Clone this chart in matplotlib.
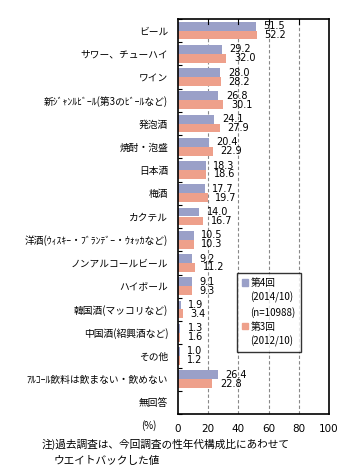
import matplotlib.pyplot as plt
from matplotlib.patches import Patch
import numpy as np

plt.rcParams['font.family'] = ['Noto Sans CJK JP', 'DejaVu Sans']

categories = ['ビール', 'サワー、チューハイ', 'ワイン', '新ｼﾞｬﾝﾙﾋﾞｰﾙ(第3のﾋﾞｰﾙなど)', '発泡酒',
              '焼酎・泡盛', '日本酒', '梅酒', 'カクテル', '洋酒(ｳｨｽｷｰ・ﾌﾞﾗﾝﾃﾞｰ・ｳｫｯｶなど)',
              'ノンアルコールビール', 'ハイボール', '韓国酒(マッコリなど)', '中国酒(紹興酒など)',
              'その他', 'ｱﾙｺｰﾙ飲料は飲まない・飲めない', '無回答']
vals_4 = [51.5, 29.2, 28.0, 26.8, 24.1, 20.4, 18.3, 17.7, 14.0, 10.5, 9.2, 9.1, 1.9, 1.3, 1.0, 26.4, None]
vals_3 = [52.2, 32.0, 28.2, 30.1, 27.9, 22.9, 18.6, 19.7, 16.7, 10.3, 11.2, 9.3, 3.4, 1.6, 1.2, 22.8, None]
xticks = [0, 20, 40, 60, 80, 100]

c4 = '#9aa0c8'
c3 = '#eea08b'

fig = plt.figure(figsize=(3.58, 4.76), dpi=100)
ax = fig.add_axes([178 / 358, 1 - 414 / 476, 151 / 358, 395 / 476])

n = len(categories)
y = np.arange(n)
h = 0.38
for i in range(n):
    if vals_4[i] is None:
        continue
    ax.barh(y[i] - h / 2, vals_4[i], height=h, color=c4, zorder=2)
    ax.barh(y[i] + h / 2, vals_3[i], height=h, color=c3, zorder=2)
    ax.text(vals_4[i] + 5, y[i] - h / 2, f'{vals_4[i]:.1f}', va='center', ha='left', fontsize=7, family='DejaVu Sans')
    ax.text(vals_3[i] + 5, y[i] + h / 2, f'{vals_3[i]:.1f}', va='center', ha='left', fontsize=7, family='DejaVu Sans')

ax.set_xlim(0, 100)
ax.set_ylim(n - 0.5, -0.5)
ax.set_xticks(xticks)
ax.set_xticklabels([str(t) for t in xticks], fontsize=7.5, family='DejaVu Sans')
ax.tick_params(axis='x', length=0, pad=7)
ax.set_yticks(y)
ax.set_yticklabels(categories, fontsize=7)
ax.tick_params(axis='y', length=0, pad=7)
ax.set_yticks(np.arange(n + 1) - 0.5, minor=True)
ax.tick_params(axis='y', which='minor', direction='in', length=3, width=0.8)
for t in xticks[1:-1]:
    ax.axvline(t, color='#888888', linestyle=(0, (3, 2)), linewidth=0.8, zorder=1)
    ax.plot([t, t], [-0.5, -0.3], color='black', linewidth=0.8, zorder=3)
for s in ax.spines.values():
    s.set_linewidth(1.2)

handles = [Patch(color=c4), Patch(color='none'), Patch(color='none'), Patch(color=c3), Patch(color='none')]
labels = ['第4回', '(2014/10)', '(n=10988)', '第3回', '(2012/10)']
leg = ax.legend(handles, labels, loc='upper left', bbox_to_anchor=(59 / 151, 1 - (273 - 19) / 395),
                borderaxespad=0, fontsize=7, frameon=True, fancybox=False, edgecolor='black',
                handlelength=0.6, handleheight=0.6, handletextpad=0.3, labelspacing=0.4,
                borderpad=0.5)
leg.get_frame().set_linewidth(1.0)

fig.text(157 / 358, 1 - 426 / 476, '(%)', fontsize=7, ha='right', va='center')
fig.text(42 / 358, 1 - 444 / 476, '注)過去調査は、今回調査の性年代構成比にあわせて', fontsize=7.7, ha='left', va='center')
fig.text(107 / 358, 1 - 461 / 476, 'ウエイトバックした値', fontsize=7.7, ha='center', va='center')

fig.savefig('out.png', dpi=100)
